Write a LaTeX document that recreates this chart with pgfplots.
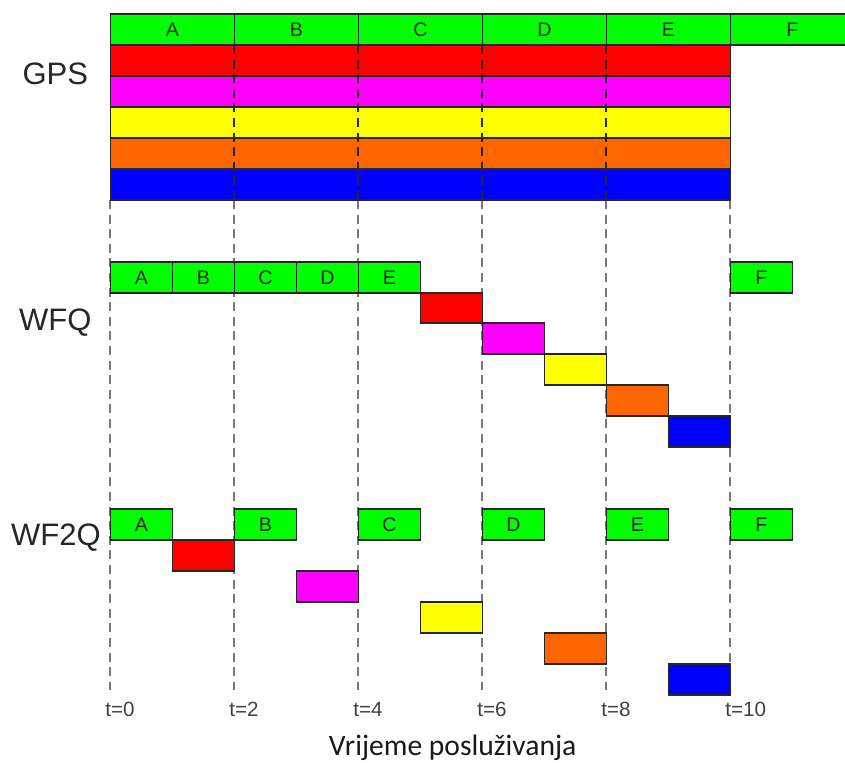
\documentclass[border=0pt]{standalone}
\usepackage{pgfplots}
\pgfplotsset{compat=1.18}
\usepackage{fontspec}
\setmainfont{Liberation Sans}
\newfontfamily\calibri{Carlito}

\definecolor{cgreen}{RGB}{0,255,0}
\definecolor{cred}{RGB}{255,0,0}
\definecolor{cmag}{RGB}{255,0,255}
\definecolor{cyel}{RGB}{255,255,0}
\definecolor{corange}{RGB}{255,102,0}
\definecolor{cblue}{RGB}{0,0,255}
\definecolor{dashgray}{RGB}{120,120,120}

% one packet: start, end (time), top, bottom (px rows), colour, label
\newcommand{\pkt}[6]{%
  \addplot[fill=#5, draw=black!85, line width=0.6pt] coordinates {(#1,#3) (#2,#3) (#2,#4) (#1,#4)} -- cycle;
  \node[font=\fontsize{9.8}{9.8}\selectfont, text=black!85] at (axis cs:{(#1+#2)/2},{(#3+#4)/2}) {#6};
}
\newcommand{\tline}[1]{%
  \addplot[dashgray, line width=1pt, dash pattern=on 4.5pt off 2.8pt] coordinates {(#1,200) (#1,690)};
  \node[anchor=west, inner sep=0pt, xshift=-2.7pt, font=\fontsize{10.3}{10.3}\selectfont, text=black!75] at (axis cs:#1,709) {t=#1};
}

\begin{document}
\begin{tikzpicture}
\begin{axis}[
  scale only axis,
  width=422.5pt, height=381.5pt,
  xmin=-1.782, xmax=11.85,
  ymin=0, ymax=763, y dir=reverse,
  hide axis,
]
\path (rel axis cs:0,0) rectangle (rel axis cs:1,1);

% time grid
\tline{0}\tline{2}\tline{4}\tline{6}\tline{8}\tline{10}

% GPS
\pkt{0}{2}{14}{45}{cgreen}{A}
\pkt{2}{4}{14}{45}{cgreen}{B}
\pkt{4}{6}{14}{45}{cgreen}{C}
\pkt{6}{8}{14}{45}{cgreen}{D}
\pkt{8}{10}{14}{45}{cgreen}{E}
\pkt{10}{12.5}{14}{45}{cgreen}{}
\node[font=\fontsize{9.8}{9.8}\selectfont, text=black!85] at (axis cs:11,30) {F};
\pkt{0}{10}{45}{76}{cred}{}
\pkt{0}{10}{76}{107}{cmag}{}
\pkt{0}{10}{107}{138}{cyel}{}
\pkt{0}{10}{138}{169}{corange}{}
\pkt{0}{10}{169}{200}{cblue}{}
\addplot[black!85, line width=1pt, dash pattern=on 4.5pt off 2.8pt] coordinates {(2,45) (2,200)};
\addplot[black!85, line width=1pt, dash pattern=on 4.5pt off 2.8pt] coordinates {(4,45) (4,200)};
\addplot[black!85, line width=1pt, dash pattern=on 4.5pt off 2.8pt] coordinates {(6,45) (6,200)};
\addplot[black!85, line width=1pt, dash pattern=on 4.5pt off 2.8pt] coordinates {(8,45) (8,200)};

% WFQ
\pkt{0}{1}{262}{293}{cgreen}{A}
\pkt{1}{2}{262}{293}{cgreen}{B}
\pkt{2}{3}{262}{293}{cgreen}{C}
\pkt{3}{4}{262}{293}{cgreen}{D}
\pkt{4}{5}{262}{293}{cgreen}{E}
\pkt{10}{11}{262}{293}{cgreen}{F}
\pkt{5}{6}{293}{323}{cred}{}
\pkt{6}{7}{323}{354}{cmag}{}
\pkt{7}{8}{354}{385}{cyel}{}
\pkt{8}{9}{385}{416}{corange}{}
\pkt{9}{10}{416}{447}{cblue}{}

% WF2Q
\pkt{0}{1}{509}{540}{cgreen}{A}
\pkt{2}{3}{509}{540}{cgreen}{B}
\pkt{4}{5}{509}{540}{cgreen}{C}
\pkt{6}{7}{509}{540}{cgreen}{D}
\pkt{8}{9}{509}{540}{cgreen}{E}
\pkt{10}{11}{509}{540}{cgreen}{F}
\pkt{1}{2}{540}{571}{cred}{}
\pkt{3}{4}{571}{602}{cmag}{}
\pkt{5}{6}{602}{633}{cyel}{}
\pkt{7}{8}{633}{664}{corange}{}
\pkt{9}{10}{664}{695}{cblue}{}

% row labels
\node[font=\fontsize{15.5}{15.5}\selectfont, text=black!85] at (axis cs:-0.89,74) {GPS};
\node[font=\fontsize{15.5}{15.5}\selectfont, text=black!85] at (axis cs:-0.89,323) {WFQ};
\node[font=\fontsize{15.5}{15.5}\selectfont, text=black!85] at (axis cs:-0.88,538) {WF2Q};
\node[font=\calibri\fontsize{14.8}{14.8}\selectfont, anchor=base, text=black!90] at (axis cs:5.52,755) {Vrijeme posluživanja};
\end{axis}
\end{tikzpicture}
\end{document}
